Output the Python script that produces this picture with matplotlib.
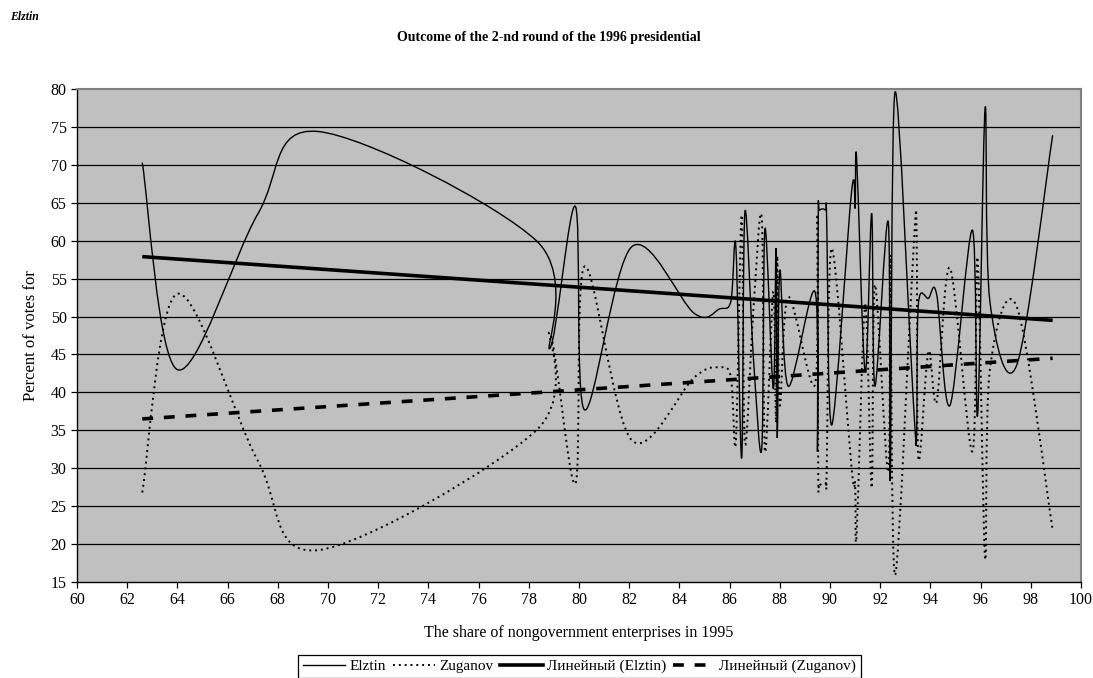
import numpy as np
import matplotlib.pyplot as plt
from matplotlib.path import Path
from matplotlib.patches import PathPatch
from matplotlib.lines import Line2D

plt.rcParams['font.family'] = ['Liberation Serif', 'DejaVu Serif']

# share of nongovernment enterprises, 1995
share = [62.6, 64.0, 67.2, 69.6, 78.3, 78.84, 79.86, 80.22, 82.1, 84.6,
         85.6, 86.05, 86.25, 86.48, 86.61, 86.95, 87.28, 87.41, 87.74, 87.85,
         87.9, 88.0, 88.34, 89.4, 89.5, 89.53, 89.58, 89.83, 89.87, 90.07,
         90.86, 91.0, 91.06, 91.4, 91.66, 91.79, 92.32, 92.4, 92.59, 93.32,
         93.45, 93.52, 93.92, 94.25, 94.78, 95.67, 95.88, 96.18, 96.37, 97.44,
         98.87]
elztin = [70.3, 43.0, 63.5, 74.4, 60.0, 45.8, 64.5, 37.7, 59.2, 50.4,
          51.0, 52.0, 59.2, 31.3, 63.8, 44.5, 32.6, 61.6, 40.5, 59.0,
          34.0, 56.1, 40.8, 53.3, 32.2, 62.5, 64.0, 64.0, 62.5, 35.7,
          66.5, 64.3, 70.9, 42.7, 63.6, 40.8, 62.5, 28.5, 79.6, 38.8,
          34.4, 51.6, 52.4, 52.9, 38.3, 61.4, 37.0, 77.5, 52.0, 43.6,
          73.9]
zuganov = [26.8, 53.0, 31.0, 19.2, 35.0, 47.8, 28.0, 56.6, 33.7, 42.0,
           43.3, 42.0, 33.5, 63.4, 33.3, 51.0, 63.0, 32.2, 53.3, 36.0,
           58.0, 38.3, 52.6, 41.0, 63.5, 30.0, 28.0, 28.0, 30.0, 59.0,
           30.0, 28.0, 21.2, 51.5, 27.4, 54.2, 29.5, 58.0, 15.9, 58.5,
           61.2, 31.3, 45.4, 38.8, 56.4, 32.2, 57.7, 18.1, 43.0, 51.3,
           21.9]

# Excel linear trendlines, values at the first and last share
trend_x = [62.6, 98.87]
trend_elztin = [57.9, 49.5]
trend_zuganov = [36.5, 44.5]


def smooth_path(x, y):
    # Excel-like smoothed line: Catmull-Rom segments as cubic Bezier curves
    pts = np.column_stack([x, y])
    n = len(pts)
    verts = [pts[0]]
    codes = [Path.MOVETO]
    for i in range(n - 1):
        p0 = pts[max(i - 1, 0)]
        p1 = pts[i]
        p2 = pts[i + 1]
        p3 = pts[min(i + 2, n - 1)]
        c1 = p1 + (p2 - p0) / 6.0
        c2 = p2 - (p3 - p1) / 6.0
        verts += [c1, c2, p2]
        codes += [Path.CURVE4] * 3
    return Path(verts, codes)


fig = plt.figure(figsize=(10.93, 6.78), dpi=100)
ax = fig.add_axes([77 / 1093, 1 - 582 / 678, (1081 - 77) / 1093, (582 - 89) / 678])
ax.set_facecolor('#c0c0c0')

for yv in range(20, 80, 5):
    ax.axhline(yv, color='black', lw=0.9, zorder=1)

dots = (0, (1, 2.0))
ax.add_patch(PathPatch(smooth_path(share, elztin), fill=False, edgecolor='black',
                       lw=1.0, zorder=3))
ax.add_patch(PathPatch(smooth_path(share, zuganov), fill=False, edgecolor='black',
                       lw=1.4, linestyle=dots, zorder=3))

ax.plot(trend_x, trend_elztin, color='black', lw=2.6, zorder=4, solid_capstyle='butt')
ax.plot(trend_x, trend_zuganov, color='black', lw=2.6, zorder=4, linestyle=(0, (3, 3)),
        dash_capstyle='butt')

ax.set_xlim(60, 100)
ax.set_ylim(15, 80)
ax.set_xticks(range(60, 101, 2))
ax.set_yticks(range(15, 81, 5))
ax.tick_params(direction='out', length=4, width=0.9, labelsize=11.5, colors='black')
for s in ['top', 'right']:
    ax.spines[s].set_color('#808080')
    ax.spines[s].set_linewidth(1.5)
for s in ['left', 'bottom']:
    ax.spines[s].set_color('black')
    ax.spines[s].set_linewidth(1.0)

ax.set_xlabel('The share of nongovernment enterprises in 1995', fontsize=11.5, labelpad=12)
ax.set_ylabel('Percent of votes for', fontsize=12, labelpad=8)

fig.text(549 / 1093, 1 - 38 / 678, 'Outcome of the 2-nd round of the 1996 presidential',
         ha='center', va='center', fontsize=10, fontweight='bold')
fig.text(10 / 1093, 1 - 17 / 678, 'Elztin', ha='left', va='center', fontsize=8.5,
         fontweight='bold', fontstyle='italic')

handles = [
    Line2D([], [], color='black', lw=1.0),
    Line2D([], [], color='black', lw=1.4, linestyle=dots),
    Line2D([], [], color='black', lw=2.6),
    Line2D([], [], color='black', lw=2.6, linestyle=(0, (3, 3))),
]
labels = ['Elztin', 'Zuganov', 'Линейный (Elztin)', 'Линейный (Zuganov)']
leg = fig.legend(handles, labels, loc='upper left', bbox_to_anchor=(298 / 1093, 1 - 655 / 678),
                 ncol=4, fontsize=11, frameon=True, fancybox=False, edgecolor='black',
                 framealpha=1, handlelength=2.8, handletextpad=0.25, columnspacing=0.45,
                 borderpad=0.3, borderaxespad=0)
leg.get_frame().set_linewidth(0.9)

fig.savefig('out.png', dpi=100)
